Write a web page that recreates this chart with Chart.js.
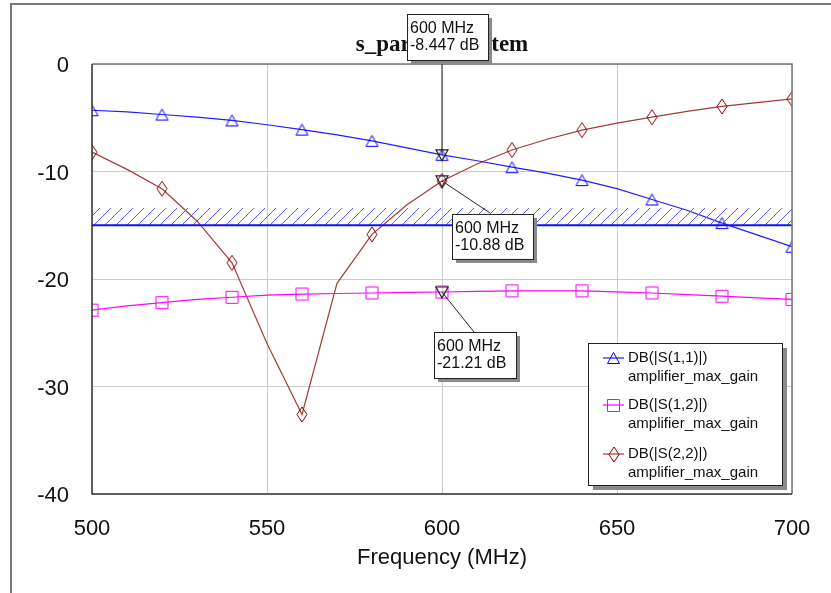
<!DOCTYPE html>
<html>
<head>
<meta charset="utf-8">
<script src="https://cdn.jsdelivr.net/npm/chart.js@4.4.0/dist/chart.umd.min.js"></script>
<style>
  html, body { margin: 0; padding: 0; background: #fff; }
  #wrap { width: 831px; height: 593px; }
</style>
</head>
<body>
<div id="wrap"><canvas id="chart" width="831" height="593"></canvas></div>
<script>
// Data (MHz / dB)
const freqs = [500, 510, 520, 530, 540, 550, 560, 570, 580, 590, 600, 610, 620, 630, 640, 650, 660, 670, 680, 690, 700];
const s11 = [-4.3, -4.45, -4.7, -4.95, -5.25, -5.65, -6.1, -6.6, -7.15, -7.8, -8.447, -9.0, -9.6, -10.15, -10.8, -11.6, -12.6, -13.6, -14.8, -15.9, -17.0];
const s12 = [-22.9, -22.5, -22.2, -21.9, -21.7, -21.5, -21.4, -21.35, -21.3, -21.25, -21.21, -21.15, -21.1, -21.1, -21.1, -21.2, -21.3, -21.45, -21.6, -21.75, -21.9];
const s22 = [-8.2, -9.8, -11.6, -14.6, -18.5, -26.0, -32.6, -20.4, -15.85, -13.1, -10.88, -9.3, -8.0, -7.0, -6.15, -5.5, -4.95, -4.4, -3.95, -3.6, -3.25];
const goalLine = -15;
const goalTop = -13.4;
const xTicks = [500, 550, 600, 650, 700];
const yTicks = [0, -10, -20, -30, -40];
const seriesNames = ['DB(|S(1,1)|)', 'DB(|S(1,2)|)', 'DB(|S(2,2)|)'];
const designName = 'amplifier_max_gain';
const markerFreq = 600;
const chartTitle = 's_params_system';
const xTitle = 'Frequency (MHz)';

const SANS = '"Liberation Sans", Arial, sans-serif';

function symbolCanvas(kind, color) {
  const c = document.createElement('canvas');
  if (kind === 'tri') {
    c.width = 15; c.height = 14;
  } else if (kind === 'sq') {
    c.width = 15; c.height = 15;
  } else {
    c.width = 12; c.height = 17;
  }
  const g = c.getContext('2d');
  g.strokeStyle = color;
  g.lineWidth = 1;
  g.beginPath();
  if (kind === 'tri') {
    g.moveTo(7.5, 1.5); g.lineTo(13.5, 12.5); g.lineTo(1.5, 12.5); g.closePath();
  } else if (kind === 'sq') {
    g.rect(1.5, 1.5, 12, 12);
  } else {
    g.moveTo(6, 1); g.lineTo(11, 8.5); g.lineTo(6, 16); g.lineTo(1, 8.5); g.closePath();
  }
  g.stroke();
  return c;
}

const colors = ['#1f1fff', '#ff00ff', '#a33a3a'];
const markColors = ['#0000ff', '#ff00ff', '#8b0000'];
const symbols = [symbolCanvas('tri', markColors[0]), symbolCanvas('sq', markColors[1]), symbolCanvas('dia', markColors[2])];

const canvas = document.getElementById('chart');
const ctx = canvas.getContext('2d');

function hatchPattern() {
  const c = document.createElement('canvas');
  c.width = 11; c.height = 11;
  const g = c.getContext('2d');
  g.strokeStyle = '#5c5cff';
  g.lineWidth = 1;
  g.beginPath();
  g.moveTo(0, 11); g.lineTo(11, 0);
  g.moveTo(-1, 1); g.lineTo(1, -1);
  g.moveTo(10, 12); g.lineTo(12, 10);
  g.stroke();
  return ctx.createPattern(c, 'repeat');
}

function pts(vals) {
  return freqs.map((f, i) => ({ x: f, y: vals[i] }));
}

function markerRadius(c) {
  return (freqs[c.dataIndex] - 500) % 20 === 0 ? 7 : 0;
}

const series = [s11, s12, s22].map((vals, i) => ({
  label: seriesNames[i],
  data: pts(vals),
  borderColor: colors[i],
  borderWidth: 1.2,
  pointStyle: symbols[i],
  pointRadius: markerRadius,
  pointHoverRadius: 0,
  tension: 0,
  fill: false,
  clip: 0
}));

const goalSet = {
  label: 'goal',
  data: [{ x: 500, y: goalLine }, { x: 700, y: goalLine }],
  borderColor: '#1010ff',
  borderWidth: 2,
  pointRadius: 0,
  backgroundColor: hatchPattern(),
  fill: { value: goalTop },
  clip: 0
};

function box(g, x, y, w, h, lines, font, lineGap) {
  g.fillStyle = '#8a8a8a';
  g.fillRect(x + 4, y + 4, w, h);
  g.fillStyle = '#fff';
  g.fillRect(x, y, w, h);
  g.strokeStyle = '#222';
  g.lineWidth = 1;
  g.strokeRect(x + 0.5, y + 0.5, w, h);
  g.fillStyle = '#111';
  g.font = font;
  g.textAlign = 'left';
  g.textBaseline = 'middle';
  lines.forEach((t, k) => g.fillText(t, x + 3, y + 15 + k * lineGap));
}

const decor = {
  id: 'decor',
  beforeDraw(chart) {
    const g = chart.ctx;
    g.save();
    g.strokeStyle = '#7a7a7a';
    g.lineWidth = 2;
    g.beginPath();
    g.moveTo(11, 593); g.lineTo(11, 4); g.lineTo(831, 4);
    g.stroke();
    g.restore();
  },
  afterDatasetsDraw(chart) {
    const g = chart.ctx;
    const a = chart.chartArea;
    g.save();
    g.lineWidth = 1.5;
    g.strokeStyle = '#777';
    g.beginPath();
    g.moveTo(a.left, a.top); g.lineTo(a.right, a.top); g.lineTo(a.right, a.bottom);
    g.stroke();
    g.strokeStyle = '#333';
    g.beginPath();
    g.moveTo(a.left, a.top); g.lineTo(a.left, a.bottom); g.lineTo(a.right, a.bottom);
    g.stroke();
    g.restore();
  },
  afterDraw(chart) {
    const g = chart.ctx;
    const a = chart.chartArea;
    const xs = chart.scales.x, ys = chart.scales.y;
    g.save();
    // title
    g.fillStyle = '#111';
    g.font = 'bold 23px "Liberation Serif", "Times New Roman", serif';
    g.textAlign = 'center';
    g.textBaseline = 'alphabetic';
    g.fillText(chartTitle, (a.left + a.right) / 2, 51);
    // x axis title
    g.font = '22px ' + SANS;
    g.textBaseline = 'middle';
    g.fillText(xTitle, (a.left + a.right) / 2, 558);

    // legend
    const lx = 588, ly = 343, lw = 194, lh = 142;
    g.fillStyle = '#8a8a8a';
    g.fillRect(lx + 5, ly + 5, lw, lh);
    g.fillStyle = '#fff';
    g.fillRect(lx, ly, lw, lh);
    g.strokeStyle = '#222';
    g.lineWidth = 1;
    g.strokeRect(lx + 0.5, ly + 0.5, lw, lh);
    const rows = [358, 405, 454];
    g.font = '15px ' + SANS;
    g.textAlign = 'left';
    rows.forEach((ry, i) => {
      g.strokeStyle = colors[i];
      g.lineWidth = 1.2;
      g.beginPath();
      g.moveTo(603, ry); g.lineTo(624, ry);
      g.stroke();
      const s = symbols[i];
      g.drawImage(s, Math.round(613.5 - s.width / 2), Math.round(ry - s.height / 2));
      g.fillStyle = '#111';
      g.fillText(seriesNames[i], 628, ry);
      g.fillText(designName, 628, ry + 19);
    });

    // markers at 600 MHz
    const idx = freqs.indexOf(markerFreq);
    const px = xs.getPixelForValue(markerFreq);
    const py = [s11, s12, s22].map(v => ys.getPixelForValue(v[idx]));
    const lbl = v => [markerFreq + ' MHz', v.toPrecision(4) + ' dB'];
    const font = '16px ' + SANS;
    g.strokeStyle = '#222';
    g.lineWidth = 1;
    g.beginPath(); g.moveTo(px, py[0]); g.lineTo(px, 60); g.stroke();
    g.beginPath(); g.moveTo(px, py[2]); g.lineTo(px + 48, py[2] + 32); g.stroke();
    g.beginPath(); g.moveTo(px, py[1]); g.lineTo(px + 32, py[1] + 40); g.stroke();
    py.forEach(y => {
      g.strokeStyle = '#222';
      g.lineWidth = 1.2;
      g.beginPath();
      g.moveTo(px - 6, y - 5); g.lineTo(px + 6, y - 5); g.lineTo(px, y + 6); g.closePath();
      g.stroke();
    });
    box(g, px - 35, 14, 81, 46, lbl(s11[idx]), font, 17);
    box(g, px + 10, py[2] + 33, 81, 45, lbl(s22[idx]), font, 17);
    box(g, px - 8, py[1] + 40, 82, 46, lbl(s12[idx]), font, 17);
    g.restore();
  }
};

new Chart(ctx, {
  type: 'line',
  data: { datasets: [goalSet, ...series] },
  options: {
    responsive: false,
    devicePixelRatio: 1,
    animation: false,
    events: [],
    layout: { padding: { left: 10, top: 64, right: 39, bottom: 0 } },
    plugins: { legend: { display: false }, title: { display: false }, tooltip: { enabled: false } },
    scales: {
      x: {
        type: 'linear',
        min: 500, max: 700,
        afterBuildTicks: s => { s.ticks = xTicks.map(v => ({ value: v })); },
        afterFit: s => { s.height = 99; s.paddingLeft = 0; s.paddingRight = 0; },
        grid: { color: '#cccccc', lineWidth: 1, drawTicks: false },
        border: { display: false },
        ticks: { padding: 22, color: '#111', font: { family: SANS, size: 22 }, maxRotation: 0 }
      },
      y: {
        type: 'linear',
        min: -40, max: 0,
        afterBuildTicks: s => { s.ticks = yTicks.map(v => ({ value: v })); },
        afterFit: s => { s.width = 82; s.paddingTop = 0; s.paddingBottom = 0; },
        grid: { color: '#cccccc', lineWidth: 1, drawTicks: false },
        border: { display: false },
        ticks: { padding: 23, labelOffset: 2, color: '#111', font: { family: SANS, size: 22 } }
      }
    }
  },
  plugins: [decor]
});
</script>
</body>
</html>
